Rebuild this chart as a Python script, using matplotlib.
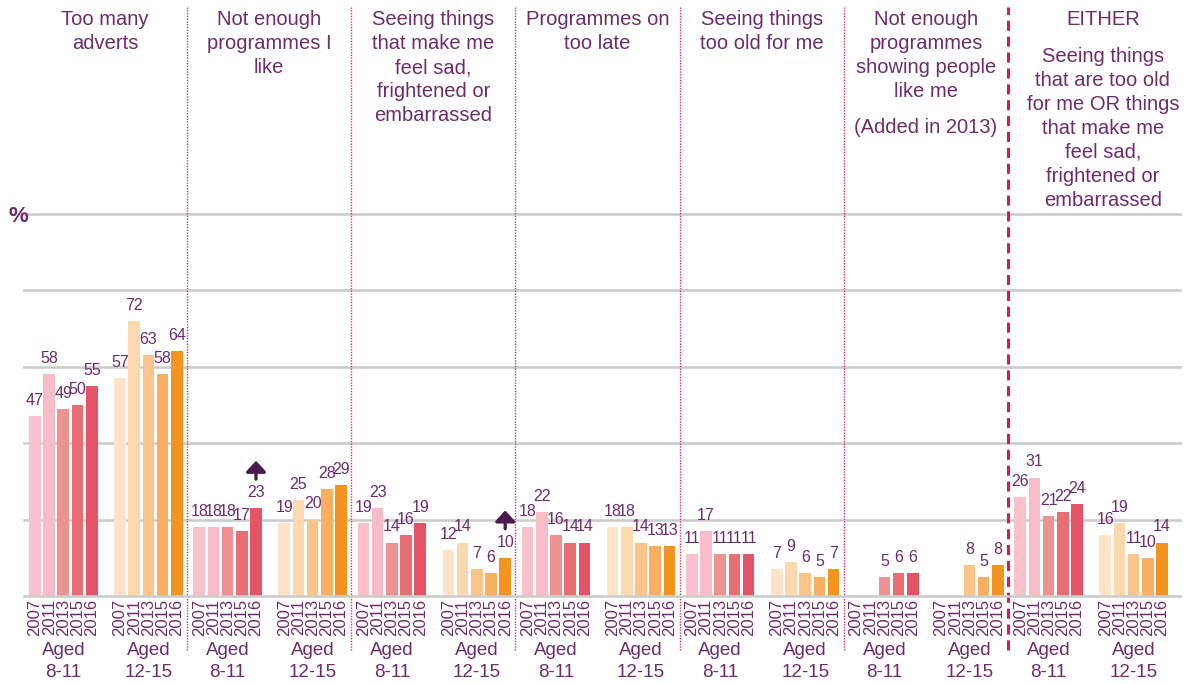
import numpy as np
import matplotlib.pyplot as plt
from matplotlib import transforms

plt.rcParams['font.family'] = ['Liberation Sans', 'DejaVu Sans']

# --- data -------------------------------------------------------------
titles = [
    ['Too many', 'adverts'],
    ['Not enough', 'programmes I', 'like'],
    ['Seeing things', 'that make me', 'feel sad,', 'frightened or', 'embarrassed'],
    ['Programmes on', 'too late'],
    ['Seeing things', 'too old for me'],
    ['Not enough', 'programmes', 'showing people', 'like me'],
    ['EITHER'],
]
note_added = '(Added in 2013)'
either_text = ['Seeing things', 'that are too old', 'for me OR things',
               'that make me', 'feel sad,', 'frightened or', 'embarrassed']

years = ['2007', '2011', '2013', '2015', '2016']
group_names = [('Aged', '8-11'), ('Aged', '12-15')]

aged_8_11 = [
    [47, 58, 49, 50, 55],
    [18, 18, 18, 17, 23],
    [19, 23, 14, 16, 19],
    [18, 22, 16, 14, 14],
    [11, 17, 11, 11, 11],
    [None, None, 5, 6, 6],
    [26, 31, 21, 22, 24],
]
aged_12_15 = [
    [57, 72, 63, 58, 64],
    [19, 25, 20, 28, 29],
    [12, 14, 7, 6, 10],
    [18, 18, 14, 13, 13],
    [7, 9, 6, 5, 7],
    [None, None, 8, 5, 8],
    [16, 19, 11, 10, 14],
]
# (category, group, year) with a significant-increase arrow
arrow_marks = [(1, 0, 4), (2, 1, 4)]

cols_8_11 = ['#f9c1cc', '#f8bcc8', '#ec9292', '#e96d74', '#e45466']
cols_12_15 = ['#fde4c8', '#fcd8af', '#fbc589', '#f9af62', '#f39320']
purple = '#6d2c6c'
arrow_col = '#4d1a4e'

# --- layout -----------------------------------------------------------
W = 11.563            # width of one category in bar slots
x0 = [0.859, 6.845]   # first bar offset of each age group
bw = 0.83

fig = plt.figure(figsize=(11.9, 6.84), dpi=100)
ax = fig.add_axes([24 / 1190, 88 / 684, 1156 / 1190, 596 / 684])
ax.set_xlim(0.085, 81.49)
ax.set_ylim(0, 156)
for s in ax.spines.values():
    s.set_visible(False)
ax.set_yticks([])

for g in range(0, 101, 20):
    ax.axhline(g, color='#cccccc', lw=1.9, zorder=3 if g == 0 else 0,
               clip_on=False)

blend = transforms.blended_transform_factory(ax.transData, fig.transFigure)


def ypx(p):
    return 1 - p / 684


ticks, ticklabels = [], []
for k in range(7):
    for gi, (vals, cols) in enumerate([(aged_8_11, cols_8_11),
                                       (aged_12_15, cols_12_15)]):
        xs = k * W + x0[gi] + np.arange(5)
        for x, v, c, yr in zip(xs, vals[k], cols, years):
            ticks.append(x)
            ticklabels.append(yr)
            if v is None:
                continue
            ax.bar(x, v, width=bw, color=c, zorder=2)
            ax.annotate(str(v), (x, v), xytext=(0, 8),
                        textcoords='offset points', ha='center',
                        va='baseline', fontsize=11.5, color=purple)
        gx = xs.mean()
        ax.text(gx, ypx(655), group_names[gi][0], transform=blend,
                ha='center', va='baseline', fontsize=13.5, color=purple)
        ax.text(gx, ypx(677), group_names[gi][1], transform=blend,
                ha='center', va='baseline', fontsize=13.5, color=purple)

ax.set_xticks(ticks, ticklabels, rotation=90, fontsize=12, color=purple)
ax.tick_params(axis='x', length=0, pad=2)

for k, gi, j in arrow_marks:
    v = (aged_8_11, aged_12_15)[gi][k][j]
    x = k * W + x0[gi] + j
    ax.annotate('', xy=(x, v + 12.4), xytext=(x, v + 7.6),
                arrowprops=dict(arrowstyle='-|>,head_width=0.6,head_length=0.65',
                                color=arrow_col, lw=2.4,
                                shrinkA=0, shrinkB=0))

# category dividers
xt = ax.get_xaxis_transform()
for k in range(1, 7):
    if k < 6:
        ax.plot([k * W] * 2, [-0.091, 0.988], transform=xt, clip_on=False,
                color='#e0306a', lw=1, ls=(0, (1, 1)))
    else:
        ax.plot([k * W] * 2, [-0.091, 0.988], transform=xt, clip_on=False,
                color='#d41a57', lw=2.2, ls=(0, (3.3, 1.9)))

# category titles
shift = [0, 0, 0, 0, 0, 0, 0.9]
for k, lines in enumerate(titles):
    cx = k * W + W / 2 + shift[k]
    for i, line in enumerate(lines):
        ax.text(cx, ypx(25 + 24 * i), line, transform=blend, ha='center',
                va='baseline', fontsize=14.5, color=purple)
ax.text(5.5 * W, ypx(133), note_added, transform=blend, ha='center',
        va='baseline', fontsize=14.5, color=purple)
for i, line in enumerate(either_text):
    ax.text(6.5 * W + shift[6], ypx(62 + 24 * i), line, transform=blend,
            ha='center', va='baseline', fontsize=14.5, color=purple)

fig.text(18 / 1190, ypx(217), '%', ha='center', va='center', fontsize=16,
         fontweight='bold', color=purple)

fig.savefig('out.png', dpi=100)
